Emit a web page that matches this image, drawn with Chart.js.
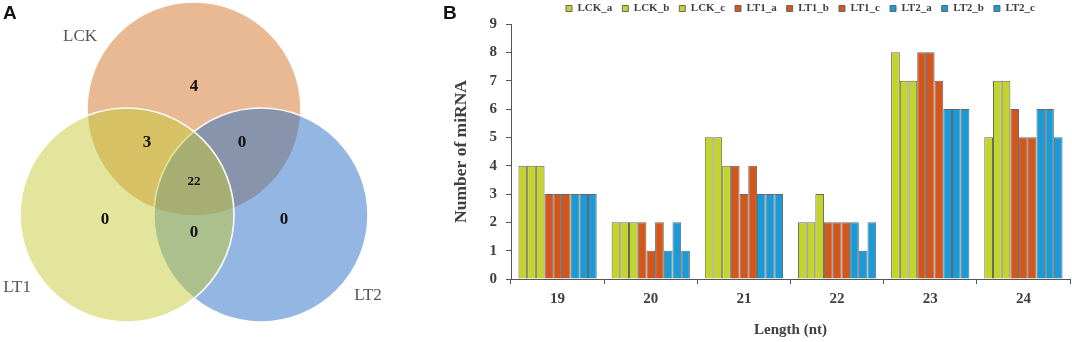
<!DOCTYPE html>
<html>
<head>
<meta charset="utf-8">
<script src="https://cdn.jsdelivr.net/npm/chart.js@4.4.1/dist/chart.umd.min.js"></script>
<style>
  html, body { margin: 0; padding: 0; background: #fff; }
  #wrap { position: relative; width: 1072px; height: 342px; overflow: hidden; }
  #venn { position: absolute; left: 0; top: 0; }
  #bars { position: absolute; left: 400px; top: 0; }
  .panel { position: absolute; font-family: "Liberation Sans", Arial, sans-serif; font-weight: bold; font-size: 19px; color: #111; }
</style>
</head>
<body>
<div id="wrap">
  <canvas id="venn" width="400" height="342"></canvas>
  <canvas id="bars" width="672" height="342"></canvas>
  <div class="panel" style="left:3px;top:2px;">A</div>
  <div class="panel" style="left:443px;top:2px;">B</div>
</div>
<script>
// ---------- Panel A: Venn data ----------
const vennSets = ['LCK', 'LT1', 'LT2'];
// circle centres in unit-radius geometry (radius = 1)
const vennCx = [0, -0.626, 0.626];
const vennCy = [0.99, 0, 0];
const vennRadius = 1;
const vennFill = ['rgba(209,115,37,0.5)', 'rgba(197,203,55,0.5)', 'rgba(41,109,199,0.5)'];
const vennOrder = [3, 1, 2];
const vennSetLabelX = [-1.065, -1.654, 1.626];
const vennSetLabelY = [1.664, -0.682, -0.75];
// region counts: LCK only, LCK∩LT1, LCK∩LT2, all, LT1 only, LT1∩LT2, LT2 only
const regionCounts = [4, 3, 0, 22, 0, 0, 0];
const regionX = [0, -0.439, 0.449, 0, -0.832, 0, 0.841];
const regionY = [1.196, 0.673, 0.673, 0.308, -0.047, -0.168, -0.047];

// ---------- Panel B: bar data ----------
const lengths = ['19', '20', '21', '22', '23', '24'];
const seriesNames = ['LCK_a', 'LCK_b', 'LCK_c', 'LT1_a', 'LT1_b', 'LT1_c', 'LT2_a', 'LT2_b', 'LT2_c'];
const LCK_a = [4, 2, 5, 2, 8, 5];
const LCK_b = [4, 2, 5, 2, 7, 7];
const LCK_c = [4, 2, 4, 3, 7, 7];
const LT1_a = [3, 2, 4, 2, 8, 6];
const LT1_b = [3, 1, 3, 2, 8, 5];
const LT1_c = [3, 2, 4, 2, 7, 5];
const LT2_a = [3, 1, 3, 2, 6, 6];
const LT2_b = [3, 2, 3, 1, 6, 6];
const LT2_c = [3, 1, 3, 2, 6, 5];
const seriesValues = [LCK_a, LCK_b, LCK_c, LT1_a, LT1_b, LT1_c, LT2_a, LT2_b, LT2_c];
const yTicks = [0, 1, 2, 3, 4, 5, 6, 7, 8, 9];

const GREEN = '#c5d42b', ORANGE = '#d4561a', BLUE = '#1b9ad8';
const seriesColors = [GREEN, GREEN, GREEN, ORANGE, ORANGE, ORANGE, BLUE, BLUE, BLUE];

// ---------- Venn chart ----------
const VENN_W = 400, VENN_H = 342;
const vXmin = -194 / 107, vXmax = 206 / 107, vYmin = -127 / 107, vYmax = 215 / 107;
const pxPerUnit = VENN_W / (vXmax - vXmin);

const vennText = {
  id: 'vennText',
  afterDatasetsDraw(chart) {
    const ctx = chart.ctx, sx = chart.scales.x, sy = chart.scales.y;
    ctx.save();
    ctx.textAlign = 'center';
    ctx.textBaseline = 'middle';
    ctx.fillStyle = '#555';
    ctx.font = '17px "Liberation Serif", "Times New Roman", serif';
    vennSets.forEach((s, i) => ctx.fillText(s, sx.getPixelForValue(vennSetLabelX[i]), sy.getPixelForValue(vennSetLabelY[i])));
    ctx.fillStyle = '#111';
    regionCounts.forEach((v, i) => {
      ctx.font = (String(v).length > 1 ? 'bold 13px' : 'bold 17px') + ' "Liberation Serif", "Times New Roman", serif';
      ctx.fillText(String(v), sx.getPixelForValue(regionX[i]), sy.getPixelForValue(regionY[i]));
    });
    ctx.restore();
  }
};

new Chart(document.getElementById('venn'), {
  type: 'bubble',
  data: {
    datasets: vennSets.map((s, i) => ({
      label: s,
      data: [{ x: vennCx[i], y: vennCy[i], r: vennRadius * pxPerUnit }],
      backgroundColor: vennFill[i],
      borderColor: 'rgba(255,255,255,0.95)',
      borderWidth: 1.6,
      hoverBorderWidth: 1.6,
      order: vennOrder[i],
      clip: false
    }))
  },
  options: {
    responsive: false,
    animation: false,
    events: [],
    layout: { padding: 0, autoPadding: false },
    plugins: { legend: { display: false }, tooltip: { enabled: false } },
    scales: {
      x: { type: 'linear', display: false, min: vXmin, max: vXmax },
      y: { type: 'linear', display: false, min: vYmin, max: vYmax }
    }
  },
  plugins: [vennText]
});

// ---------- Bar chart ----------
const serif = '"Liberation Serif", "Times New Roman", serif';
const legendShift = {
  id: 'legendShift',
  afterLayout(chart) {
    if (chart.legend) { chart.legend.left += 10; chart.legend.right += 10; }
  }
};
new Chart(document.getElementById('bars'), {
  type: 'bar',
  data: {
    labels: lengths,
    datasets: seriesNames.map((n, i) => ({
      label: n,
      data: seriesValues[i],
      backgroundColor: seriesColors[i],
      borderColor: '#666',
      borderWidth: 1,
      categoryPercentage: 0.84,
      barPercentage: 1.0
    }))
  },
  options: {
    responsive: false,
    animation: false,
    events: [],
    layout: { padding: { left: 0, right: 2, top: -7, bottom: 0 } },
    plugins: {
      tooltip: { enabled: false },
      legend: {
        position: 'top',
        fullSize: false,
        align: 'center',
        labels: {
          boxWidth: 6,
          boxHeight: 6,
          padding: 10,
          color: '#404040',
          font: { family: serif, weight: 'bold', size: 11 }
        }
      }
    },
    scales: {
      x: {
        grid: { display: true, drawOnChartArea: false, drawTicks: true, tickLength: 5, color: '#555', offset: true },
        border: { display: true, color: '#555', width: 1 },
        ticks: { color: '#404040', padding: 6, font: { family: serif, weight: 'bold', size: 15 } },
        title: { display: true, text: 'Length (nt)', color: '#404040', padding: { top: 0, bottom: 3 }, font: { family: serif, weight: 'bold', size: 15 } },
        afterFit: (s) => { s.height = 63; }
      },
      y: {
        min: yTicks[0],
        max: yTicks[yTicks.length - 1],
        afterBuildTicks: (s) => { s.ticks = yTicks.map(v => ({ value: v })); },
        grid: { display: true, drawOnChartArea: false, drawTicks: true, tickLength: 5, color: '#555' },
        border: { display: true, color: '#555', width: 1 },
        ticks: { color: '#404040', padding: 9, font: { family: serif, weight: 'bold', size: 15 } },
        title: { display: true, text: 'Number of miRNA', color: '#404040', padding: { top: 51, bottom: 0 }, font: { family: serif, weight: 'bold', size: 17.5 } },
        afterFit: (s) => { s.width = 111; }
      }
    }
  },
  plugins: [legendShift]
});
</script>
</body>
</html>
